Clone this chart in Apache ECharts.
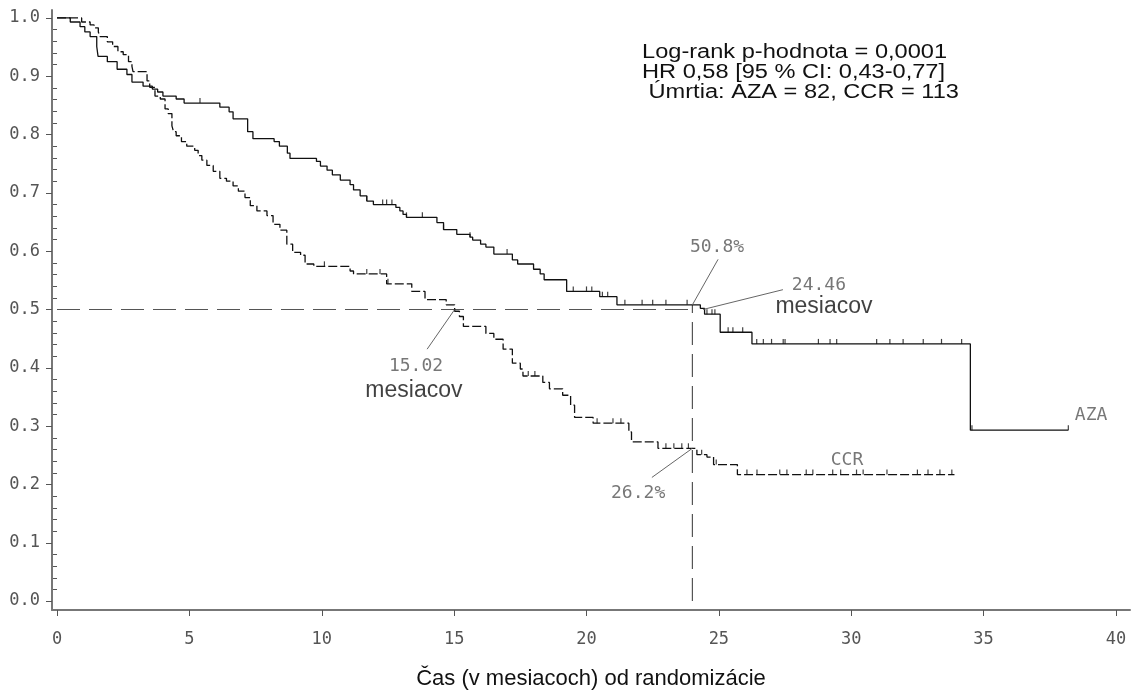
<!DOCTYPE html>
<html><head><meta charset="utf-8">
<script src="https://cdn.jsdelivr.net/npm/echarts@6/dist/echarts.min.js"></script>
<style>html,body{margin:0;padding:0;background:#fff;}#c{width:1132px;height:695px;}</style>
</head><body><div id="c"></div>
<script>
// ---- data (Kaplan-Meier steps: time in months, survival after the step) ----
const azaTime = [0,0.5,0.87,1.05,1.25,1.5,1.55,1.9,2.27,2.64,2.83,3.25,3.6,3.8,4.0,4.5,4.8,6.15,6.5,6.65,7.2,7.4,8.2,8.4,8.7,8.8,9.8,9.95,10.2,10.4,10.7,11.07,11.2,11.45,11.7,11.95,12.8,12.95,13.07,13.2,14.35,14.6,15.1,15.6,15.7,16.0,16.2,16.5,17.2,17.4,18.0,18.25,18.4,19.25,20.5,21.15,24.3,24.46,25.05,26.25,34.5,38.2];
const azaSurv = [1.0,0.993,0.985,0.976,0.968,0.951,0.934,0.925,0.912,0.903,0.890,0.883,0.878,0.873,0.866,0.861,0.854,0.847,0.839,0.827,0.805,0.793,0.788,0.780,0.768,0.759,0.754,0.746,0.739,0.731,0.722,0.714,0.705,0.695,0.686,0.680,0.675,0.669,0.663,0.658,0.649,0.637,0.629,0.624,0.619,0.612,0.607,0.595,0.585,0.578,0.569,0.561,0.551,0.531,0.522,0.508,0.502,0.492,0.461,0.441,0.293,0.293];
const ccrTime = [0,0.93,1.25,1.4,1.56,1.62,1.9,2.1,2.3,2.5,2.7,2.83,2.87,3.4,3.5,3.7,3.9,4.08,4.2,4.34,4.4,4.5,4.7,4.9,5.2,5.33,5.47,5.66,5.9,6.15,6.4,6.65,6.85,7.1,7.3,7.55,7.93,8.16,8.42,8.68,8.9,9.2,9.37,9.7,11.07,11.2,12.45,13.4,13.9,14.7,15.02,15.2,15.35,16.2,16.5,16.85,17.2,17.5,17.6,18.35,18.6,19.1,19.4,19.55,20.25,21.6,21.7,22.7,24.17,24.55,24.8,25.7,33.9];
const ccrSurv = [1.0,0.993,0.988,0.983,0.976,0.968,0.959,0.951,0.942,0.937,0.925,0.917,0.908,0.892,0.881,0.866,0.861,0.844,0.836,0.815,0.805,0.798,0.788,0.780,0.773,0.764,0.756,0.747,0.737,0.725,0.720,0.712,0.703,0.692,0.678,0.669,0.661,0.646,0.636,0.612,0.598,0.593,0.578,0.574,0.566,0.561,0.544,0.531,0.517,0.508,0.497,0.488,0.471,0.459,0.449,0.432,0.408,0.398,0.386,0.375,0.364,0.353,0.336,0.315,0.305,0.290,0.273,0.262,0.251,0.247,0.234,0.217,0.217];
const azaCensor = [5.4,11.7,12.3,12.45,12.65,13.2,13.8,14.6,15.6,17.0,19.5,20.0,20.2,20.6,20.8,21.45,22.1,22.5,23.0,23.8,24.55,24.74,24.85,25.35,25.53,25.9,26.43,26.68,26.99,27.43,27.5,28.76,29.2,29.45,30.96,31.46,31.96,32.72,33.41,34.17,34.56,38.2];
const ccrCensor = [10.1,11.7,12.2,12.5,17.8,18.05,20.4,21.0,21.3,23.0,23.3,23.6,23.85,24.35,24.9,26.06,26.44,27.3,27.57,28.3,28.55,29.3,29.6,30.2,30.45,31.35,32.5,32.9,33.35,33.8];
const xTicks = [0,5,10,15,20,25,30,35,40];
const yTicks = [0,0.1,0.2,0.3,0.4,0.5,0.6,0.7,0.8,0.9,1.0];
const medianLevel = 0.5;
const landmarkMonth = 24;
const azaAt24 = 0.508, ccrAt24 = 0.262, azaMedian = 24.46, ccrMedian = 15.02;
const infoLines = ['Log-rank p-hodnota = 0,0001','HR 0,58 [95 % CI: 0,43-0,77]',' Úmrtia: AZA = 82, CCR = 113'];
const xTitle = 'Čas (v mesiacoch) od randomizácie';

// ---- build ----
const yMinor = [];
for (let i = 0; i <= 50; i++) { if (i % 5) yMinor.push(+(i * 0.02).toFixed(2)); }
const zip = (a, b) => a.map((t, i) => [t, b[i]]);
function survAt(times, surv, t) { let s = 1; for (let i = 0; i < times.length; i++) if (times[i] <= t) s = surv[i]; return s; }
const censorPts = (c, times, surv) => c.map(t => [t, survAt(times, surv, t)]);

const sas = {fontFamily: 'DejaVu Sans Mono', fontSize: 18, color: '#555'};
const arial = {fontFamily: 'Liberation Sans, Arial', fontSize: 23, color: '#111'};

const notes = [
  {text: azaAt24 * 100 + '%', at: [24.93, 0.607], st: sas},
  {text: azaMedian.toFixed(2), at: [28.78, 0.541], st: sas},
  {text: 'mesiacov', at: [28.97, 0.505], st: arial},
  {text: ccrMedian.toFixed(2), at: [13.56, 0.402], st: sas},
  {text: 'mesiacov', at: [13.48, 0.361], st: arial},
  {text: (ccrAt24 * 100).toFixed(1) + '%', at: [21.95, 0.185], st: sas},
  {text: 'AZA', at: [39.06, 0.319], st: sas},
  {text: 'CCR', at: [29.84, 0.242], st: sas}
];
const leaders = [
  [[landmarkMonth, azaAt24], [24.97, 0.586]],
  [[24.4, 0.500], [27.42, 0.534]],
  [[ccrMedian, medianLevel], [13.98, 0.432]],
  [[landmarkMonth, ccrAt24], [22.47, 0.212]]
];
const dashRef = {color: '#555', width: 1.2, type: [23, 9]};
const leadStyle = {color: '#666', width: 1, type: 'solid'};
const refSeries = (pts) => ({type: 'line', data: pts, symbol: 'none', showSymbol: false, silent: true, lineStyle: dashRef, z: 2});

const chart = echarts.init(document.getElementById('c'), null, {renderer: 'canvas'});
chart.setOption({
  animation: false,
  backgroundColor: '#fff',
  grid: {left: 52, top: 10, width: 1078, height: 607, containLabel: false},
  xAxis: {
    type: 'value', min: -0.19, max: 40.53,
    axisLine: {show: true, onZero: false, lineStyle: {color: '#777', width: 2}},
    axisTick: {show: true, customValues: xTicks, length: 6, lineStyle: {color: '#555'}},
    axisLabel: {customValues: xTicks, margin: 21, fontFamily: 'DejaVu Sans Mono', fontSize: 17, color: '#555'},
    splitLine: {show: false},
    name: xTitle, nameLocation: 'middle', nameGap: 58,
    nameTextStyle: {fontFamily: 'Liberation Sans, Arial', fontSize: 22, color: '#111'}
  },
  yAxis: [{
    type: 'value', min: -0.0153, max: 1.0136,
    axisLine: {show: true, onZero: false, lineStyle: {color: '#777', width: 2}},
    axisTick: {show: true, customValues: yTicks, length: 6, lineStyle: {color: '#555'}},
    axisLabel: {customValues: yTicks, formatter: v => v.toFixed(1), margin: 12, fontFamily: 'DejaVu Sans Mono', fontSize: 17, color: '#555'},
    splitLine: {show: false}
  }, {
    type: 'value', min: -0.0153, max: 1.0136, position: 'left',
    axisLine: {show: false},
    axisTick: {show: true, customValues: yMinor, length: 4, lineStyle: {color: '#555'}},
    axisLabel: {show: false}, splitLine: {show: false}
  }],
  series: [
    refSeries([[0, medianLevel], [landmarkMonth, medianLevel]]),
    refSeries([[landmarkMonth, 0], [landmarkMonth, azaAt24]]),
    {
      name: 'AZA', type: 'line', step: 'end', data: zip(azaTime, azaSurv), showSymbol: false, symbol: 'none',
      lineStyle: {color: '#111', width: 1.3}, z: 3,
      markLine: {
        silent: true, symbol: ['none', 'none'], label: {show: false},
        data: leaders.map(l => [{coord: l[0], lineStyle: leadStyle}, {coord: l[1]}])
      }
    },
    {
      name: 'CCR', type: 'line', step: 'end', data: zip(ccrTime, ccrSurv), showSymbol: false, symbol: 'none',
      lineStyle: {color: '#111', width: 1.3, type: [9, 3]}, z: 3
    },
    {
      type: 'scatter', data: censorPts(azaCensor, azaTime, azaSurv), symbol: 'rect', symbolSize: [1.2, 5], symbolOffset: [0, -2.5],
      itemStyle: {color: '#111'}, silent: true, z: 4
    },
    {
      type: 'scatter', data: censorPts(ccrCensor, ccrTime, ccrSurv), symbol: 'rect', symbolSize: [1.2, 5], symbolOffset: [0, -2.5],
      itemStyle: {color: '#111'}, silent: true, z: 4
    },
    {
      type: 'scatter', silent: true, symbolSize: 1, itemStyle: {color: 'rgba(0,0,0,0)'}, z: 5,
      data: notes.map(n => ({value: n.at, label: {show: true, position: 'inside', formatter: n.text, fontFamily: n.st.fontFamily, fontSize: n.st.fontSize, color: n.st.color}}))
    }
  ],
  graphic: infoLines.map((t, i) => ({
    type: 'text', x: 642, y: 52 + i * 20, scaleX: 1.18,
    style: {text: t, fontFamily: 'Liberation Sans, Arial', fontSize: 20, fill: '#111', align: 'left', verticalAlign: 'middle'}
  }))
});
</script></body></html>
